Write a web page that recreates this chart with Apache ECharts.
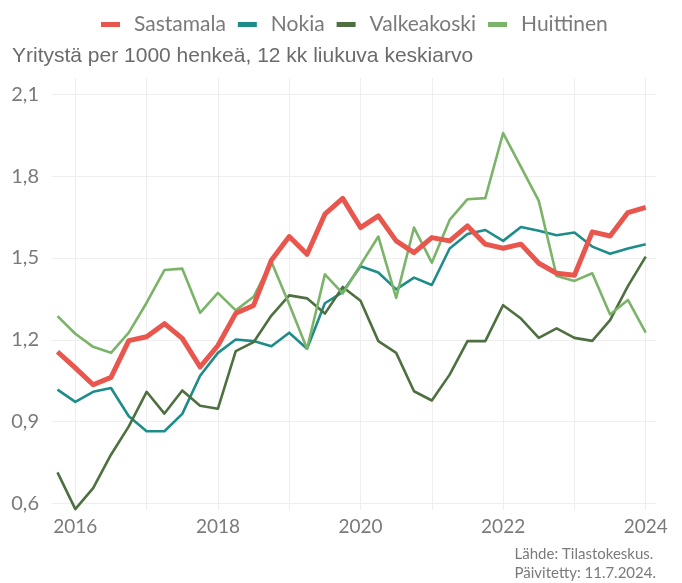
<!DOCTYPE html>
<html>
<head>
<meta charset="utf-8">
<script src="https://cdn.jsdelivr.net/npm/echarts@6/dist/echarts.min.js"></script>
<style>
    html, body { margin: 0; padding: 0; background: #fff; }
    #chart { width: 682px; height: 583px; }
</style>
</head>
<body>
<div id="chart"></div>
<script>
    // quarterly points, as decimal years
    var years = [2015.75, 2016.0, 2016.25, 2016.5, 2016.75, 2017.0, 2017.25, 2017.5, 2017.75,
        2018.0, 2018.25, 2018.5, 2018.75, 2019.0, 2019.25, 2019.5, 2019.75,
        2020.0, 2020.25, 2020.5, 2020.75, 2021.0, 2021.25, 2021.5, 2021.75,
        2022.0, 2022.25, 2022.5, 2022.75, 2023.0, 2023.25, 2023.5, 2023.75, 2024.0];

    var sastamala = [1.156, 1.097, 1.035, 1.062, 1.197, 1.211, 1.259, 1.205, 1.100, 1.179,
        1.297, 1.326, 1.492, 1.579, 1.514, 1.661, 1.719, 1.612, 1.655, 1.563,
        1.520, 1.575, 1.563, 1.618, 1.551, 1.536, 1.551, 1.481, 1.444, 1.437,
        1.596, 1.581, 1.667, 1.686];
    var nokia = [1.017, 0.972, 1.009, 1.023, 0.919, 0.864, 0.864, 0.928, 1.068, 1.152,
        1.201, 1.195, 1.176, 1.226, 1.167, 1.334, 1.375, 1.470, 1.447, 1.385,
        1.428, 1.401, 1.535, 1.588, 1.603, 1.563, 1.614, 1.600, 1.584, 1.594,
        1.542, 1.516, 1.535, 1.551];
    var valkeakoski = [0.713, 0.578, 0.655, 0.778, 0.882, 1.009, 0.929, 1.014, 0.958, 0.947,
        1.158, 1.191, 1.289, 1.363, 1.352, 1.296, 1.394, 1.343, 1.195, 1.152,
        1.011, 0.977, 1.072, 1.195, 1.195, 1.327, 1.278, 1.207, 1.242, 1.207,
        1.196, 1.272, 1.397, 1.505];
    var huittinen = [1.287, 1.222, 1.174, 1.152, 1.226, 1.336, 1.456, 1.461, 1.299, 1.372,
        1.308, 1.358, 1.486, 1.330, 1.167, 1.440, 1.370, 1.475, 1.579, 1.354,
        1.612, 1.483, 1.640, 1.716, 1.720, 1.959, 1.835, 1.710, 1.434, 1.416,
        1.444, 1.293, 1.346, 1.226];

    var names = ['Sastamala', 'Nokia', 'Valkeakoski', 'Huittinen'];
    var colors = ['#E9564D', '#1E8C89', '#4E7040', '#7BB469'];
    var widths = [5, 2.6, 2.6, 2.6];
    var xLabels = [2016, 2018, 2020, 2022, 2024];

    var labelFont = 'Lato, "Noto Sans", sans-serif';

    function pairs(values) {
        return values.map(function(v, i) { return [years[i], v]; });
    }

    var chart = echarts.init(document.getElementById('chart'), null, { renderer: 'canvas' });

    var option = {
        animation: false,
        backgroundColor: '#fff',
        title: {
            text: 'Yritystä per 1000 henkeä, 12 kk liukuva keskiarvo',
            left: 12,
            top: 46,
            padding: 0,
            textStyle: { fontFamily: '"Liberation Sans", Arial, sans-serif', fontSize: 21, fontWeight: 'normal', color: '#6b6b6b' }
        },
        graphic: [{
            type: 'text',
            right: 26,
            top: 545,
            style: {
                text: 'Lähde: Tilastokeskus.\nPäivitetty: 11.7.2024.',
                font: '15px ' + labelFont,
                fill: '#7a7a7a',
                align: 'right',
                lineHeight: 19
            }
        }],
        legend: {
            data: names,
            left: 96,
            top: 9,
            icon: 'rect',
            itemWidth: 19,
            itemHeight: 5,
            itemGap: 12,
            textStyle: { fontFamily: labelFont, fontSize: 21, color: '#7a7a7a', padding: [0, 0, 0, 9] }
        },
        grid: { left: 52, right: 26, top: 78, bottom: 73, containLabel: false },
        xAxis: {
            type: 'value',
            min: 2015.673,
            max: 2024.144,
            splitNumber: 8,
            axisLine: { show: false },
            axisTick: { show: false },
            axisLabel: {
                margin: 7,
                showMinLabel: false,
                showMaxLabel: false,
                fontFamily: labelFont, fontSize: 19, color: '#7a7a7a',
                formatter: function(v) {
                    return xLabels.indexOf(Math.round(v)) >= 0 && Math.abs(v - Math.round(v)) < 1e-6 ? String(Math.round(v)) : '';
                }
            },
            splitLine: { show: true, showMinLine: false, showMaxLine: false, lineStyle: { color: '#eeeeee', width: 1.2 } }
        },
        yAxis: {
            type: 'value',
            min: 0.575,
            max: 2.161,
            splitNumber: 5,
            axisLine: { show: false },
            axisTick: { show: false },
            axisLabel: {
                margin: 13,
                showMinLabel: false,
                showMaxLabel: false,
                fontFamily: labelFont, fontSize: 20, color: '#7a7a7a',
                formatter: function(v) {
                    var r = Math.round(v * 10) / 10;
                    if (Math.abs(v - r) > 1e-6) return '';
                    return r.toFixed(1).replace('.', ',');
                }
            },
            splitLine: { show: true, showMinLine: false, showMaxLine: false, lineStyle: { color: '#eeeeee', width: 1.2 } }
        },
        series: [sastamala, nokia, valkeakoski, huittinen].map(function(values, k) {
            return {
                name: names[k],
                type: 'line',
                data: pairs(values),
                showSymbol: false,
                symbol: 'none',
                z: k === 0 ? 5 : 2,
                color: colors[k],
                lineStyle: { color: colors[k], width: widths[k], join: 'round' }
            };
        })
    };

    chart.setOption(option, true);
</script>
</body>
</html>
